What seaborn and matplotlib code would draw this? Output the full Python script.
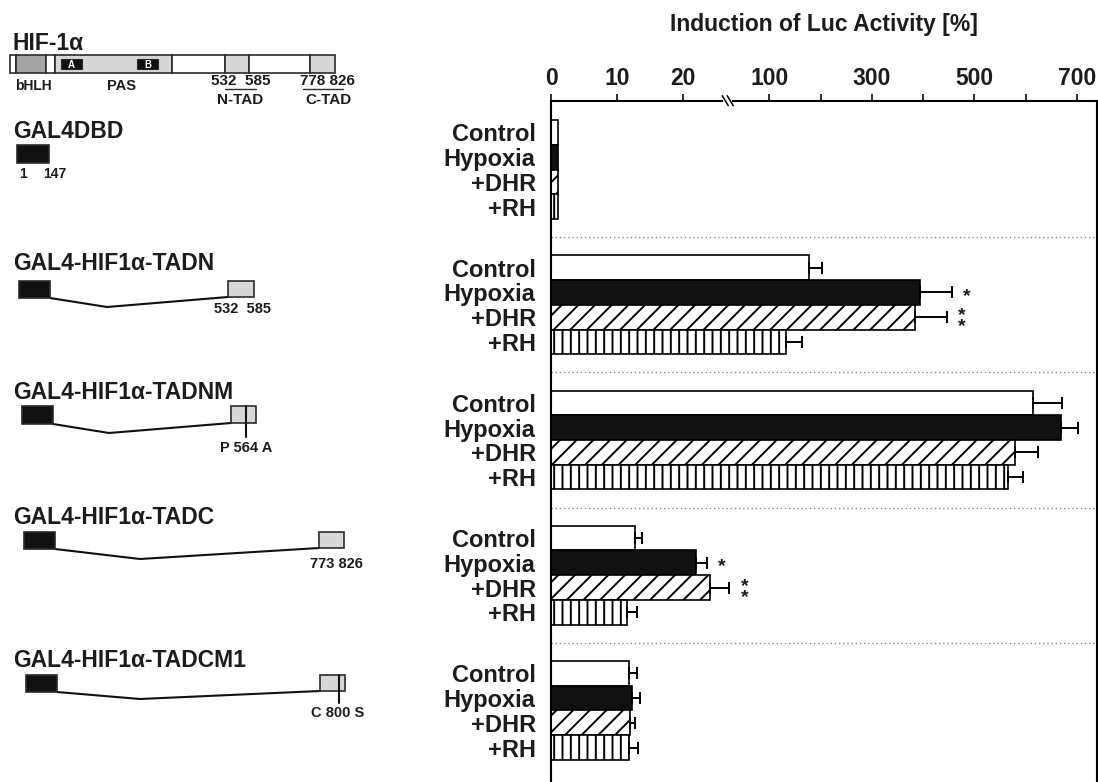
import numpy as np
import pandas as pd
import matplotlib
matplotlib.use("Agg")
import matplotlib.pyplot as plt
from matplotlib.patches import Rectangle
import seaborn as sns

# ---------------------------------------------------------------- data
constructs = ["GAL4DBD", "GAL4-HIF1α-TADN", "GAL4-HIF1α-TADNM",
              "GAL4-HIF1α-TADC", "GAL4-HIF1α-TADCM1"]
treatments = ["Control", "Hypoxia", "+DHR", "+RH"]

# Induction of Luc activity [%]; rows follow constructs, columns treatments
control = [1.0, 178, 614, 12.7, 11.8]
hypoxia = [1.1, 394, 669, 22.0, 12.3]
dhr = [1.0, 384, 579, 24.1, 12.0]
rh = [1.0, 133, 566, 11.5, 11.8]

control_err = [0, 25, 57, 1.1, 1.2]
hypoxia_err = [0, 62, 33, 1.6, 1.2]
dhr_err = [0, 62, 45, 2.9, 0.7]
rh_err = [0, 31, 29, 1.5, 1.4]

hypoxia_sig = ["", "*", "", "*", ""]
dhr_sig = ["", "**", "", "**", ""]

x_ticks = [0, 10, 20, 100, 200, 300, 400, 500, 600, 700]
x_ticklabels = ["0", "10", "20", "100", "", "300", "", "500", "", "700"]

# ---------------------------------------------------------------- style
sns.set_style("white")
plt.rcParams["font.family"] = ["Liberation Sans", "DejaVu Sans"]
plt.rcParams["font.weight"] = "bold"
plt.rcParams["text.color"] = "#1c1c1c"
plt.rcParams["xtick.color"] = "#1c1c1c"
plt.rcParams["ytick.color"] = "#1c1c1c"
plt.rcParams["hatch.linewidth"] = 1.4
plt.rcParams["hatch.color"] = "black"

EDGE = "#2b2b2b"
LIGHT = "#d7d7d7"
MID = "#a4a4a4"
BAR_W = 0.732
SLOT = BAR_W / len(treatments)

values = [control, hypoxia, dhr, rh]
errors = [control_err, hypoxia_err, dhr_err, rh_err]
sigs = [[""] * len(constructs), hypoxia_sig, dhr_sig, [""] * len(constructs)]

df = pd.DataFrame(
    [(c, t, values[j][i]) for i, c in enumerate(constructs)
     for j, t in enumerate(treatments)],
    columns=["construct", "treatment", "value"],
)

W, H = 1098, 782
fig = plt.figure(figsize=(W / 100, H / 100), dpi=100)

# ---------------------------------------------------------------- bar panel
ax = fig.add_axes([551 / W, 0, (1097 - 551) / W, 1 - 100.7 / H])
sns.barplot(
    data=df, x="value", y="construct", hue="treatment",
    order=constructs, hue_order=treatments,
    palette=["white", "#111111", "white", "white"], saturation=1,
    width=BAR_W, edgecolor="black", linewidth=1.2,
    errorbar=None, legend=False, orient="h", ax=ax,
)

hatch_for = {0: "", 1: "", 2: "//", 3: "||"}
for p in ax.patches:
    yc = p.get_y() + p.get_height() / 2
    j = int(round((yc - round(yc)) / SLOT + 1.5))
    p.set_hatch(hatch_for.get(j, ""))

# broken value axis: 0-30 stretched, 100-700 compressed
_v = np.array([-1000.0, 0.0, 30.0, 100.0, 1000.0])
_p = np.array([-6600.0, 0.0, 198.0, 218.4, 218.4 + 900 * 0.5133])


def fwd(v):
    return np.interp(v, _v, _p)


def inv(p):
    return np.interp(p, _p, _v)


ax.set_xscale("function", functions=(fwd, inv))
ax.set_xlim(0, 739)
ax.set_ylim(4.529, -0.509)

# one-sided error bars and significance marks
for j in range(len(treatments)):
    for i in range(len(constructs)):
        y = i + (j - 1.5) * SLOT
        v, e = values[j][i], errors[j][i]
        if e > 0:
            ax.errorbar([v], [y], xerr=[[0], [e]], fmt="none", ecolor="black",
                        elinewidth=1.4, capsize=4.3, capthick=1.4, zorder=3)
        s = sigs[j][i]
        if s:
            # asterisks stacked one above the other
            ax.annotate("\n".join(s), xy=(v + e, y),
                        xytext=(11, -3),
                        textcoords="offset points", ha="center", va="center",
                        fontsize=14, linespacing=0.55)

# dotted separators between constructs
for k in range(len(constructs) - 1):
    ax.axhline(k + 0.5, color="#8a8a8a", lw=1.0, ls=(0, (1, 2)), zorder=0)

ax.xaxis.tick_top()
ax.set_xticks(x_ticks, x_ticklabels)
ax.tick_params(axis="x", direction="out", length=5, width=1.3, pad=3,
               labelsize=16.5, top=True, bottom=False)
ypos = [i + (j - 1.5) * SLOT for i in range(len(constructs))
        for j in range(len(treatments))]
ax.set_yticks(ypos, treatments * len(constructs))
ax.tick_params(axis="y", length=0, pad=11, labelsize=17)
ax.set_xlabel("")
ax.set_ylabel("")
ax.spines["bottom"].set_visible(False)
for side in ("top", "left", "right"):
    ax.spines[side].set_linewidth(1.5)
    ax.spines[side].set_color("black")

# axis break mark
xf = ax.transAxes.inverted().transform(ax.transData.transform((26.8, 0)))[0]
dx, dy = 1 / (1097 - 551), 1 / (H - 100.7)
ax.plot([xf - 2.5 * dx, xf + 2.5 * dx], [1, 1], color="white", lw=3,
        transform=ax.transAxes, clip_on=False, zorder=5)
for off in (-2.5, 2.5):
    ax.plot([xf + (off - 3) * dx, xf + (off + 3) * dx], [1 + 5 * dy, 1 - 5 * dy],
            color="black", lw=1.1, transform=ax.transAxes, clip_on=False, zorder=6)

fig.text(824 / W, 1 - 25 / H, "Induction of Luc Activity [%]", ha="center",
         va="center", fontsize=16.5)

# ---------------------------------------------------------------- construct diagrams
axd = fig.add_axes([0, 0, 430 / W, 1])
axd.set_xlim(0, 430)
axd.set_ylim(H, 0)
axd.axis("off")


def box(x0, x1, y0, y1, fc, lw=1.2):
    axd.add_patch(Rectangle((x0, y0), x1 - x0, y1 - y0, facecolor=fc,
                            edgecolor=EDGE, lw=lw, zorder=2))


# full-length HIF-1α
axd.text(13, 50, "HIF-1α", fontsize=16.5, ha="left", va="baseline")
for x0, x1, fc in [(10, 16, "white"), (16, 46, MID), (46, 55, "white"),
                   (55, 172, LIGHT), (172, 225, "white"), (225, 249, LIGHT),
                   (249, 310, "white"), (310, 335, LIGHT)]:
    box(x0, x1, 55, 73, fc)
for x0, x1, t in [(61, 82, "A"), (137, 158, "B")]:
    box(x0, x1, 59, 69, "#111111", lw=0.8)
    axd.text((x0 + x1) / 2, 64.5, t, color="white", fontsize=7,
             ha="center", va="center", zorder=3)
axd.text(15, 86, "bHLH", fontsize=10, ha="left", va="center")
axd.text(122, 86, "PAS", fontsize=10.5, ha="center", va="center")
axd.text(241, 81, "532  585", fontsize=11, ha="center", va="center")
axd.plot([225, 256], [89, 89], color=EDGE, lw=1)
axd.text(240, 100, "N-TAD", fontsize=11, ha="center", va="center")
axd.text(327, 81, "778 826", fontsize=11, ha="center", va="center")
axd.plot([303, 343], [89, 89], color=EDGE, lw=1)
axd.text(328, 100, "C-TAD", fontsize=11, ha="center", va="center")

# GAL4 DNA-binding domain alone
axd.text(13, 138, constructs[0], fontsize=16.5, ha="left", va="baseline")
box(17, 49, 145, 163, "#111111")
axd.text(19, 174, "1", fontsize=10, ha="left", va="center")
axd.text(43, 174, "147", fontsize=10, ha="left", va="center")

# fusion constructs
fusions = [
    dict(base=270, y0=281, y1=298, g=(19, 50), kink=(107, 307), d=(228, 254),
         mut=None, lab="532  585", lab_xy=(242, 309)),
    dict(base=399, y0=406, y1=424, g=(22, 53), kink=(109, 433), d=(231, 256),
         mut=(246, 437), lab="P 564 A", lab_xy=(246, 448)),
    dict(base=524, y0=532, y1=549, g=(24, 55), kink=(140, 559), d=(319, 344),
         mut=None, lab="773 826", lab_xy=(336, 564)),
    dict(base=667, y0=675, y1=692, g=(26, 57), kink=(140, 699), d=(320, 345),
         mut=(339, 703), lab="C 800 S", lab_xy=(338, 713)),
]
for name, f in zip(constructs[1:], fusions):
    axd.text(13, f["base"], name, fontsize=16.5, ha="left", va="baseline")
    box(f["g"][0], f["g"][1], f["y0"], f["y1"], "#111111")
    axd.plot([f["g"][1], f["kink"][0], f["d"][0]],
             [f["y1"], f["kink"][1], f["y1"] - 1], color="#111111", lw=1.5,
             zorder=1)
    box(f["d"][0], f["d"][1], f["y0"], f["y1"] - 1, LIGHT)
    if f["mut"]:
        axd.plot([f["mut"][0], f["mut"][0]], [f["y0"], f["mut"][1]],
                 color="#111111", lw=1.5, zorder=3)
    axd.text(f["lab_xy"][0], f["lab_xy"][1], f["lab"], fontsize=10.5,
             ha="center", va="center")

fig.savefig("out.png", dpi=100)
